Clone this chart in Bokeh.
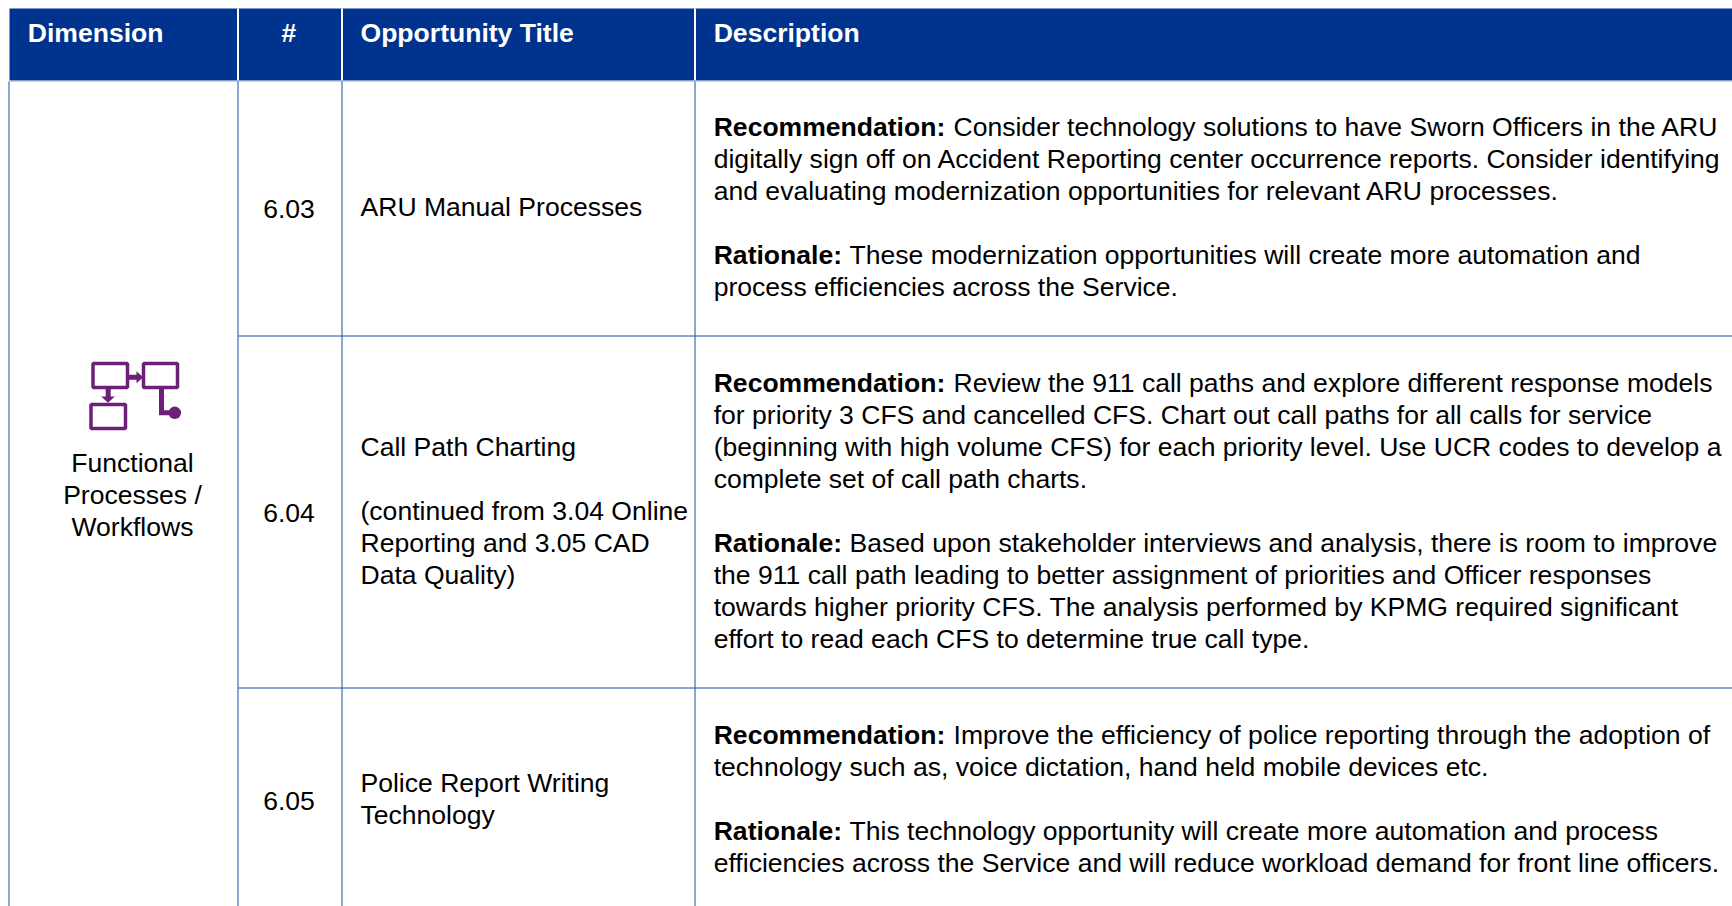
from bokeh.plotting import figure
from bokeh.models import Range1d
from bokeh.core.properties import value
from bokeh.embed import file_html
from bokeh.resources import INLINE

headers = ["Dimension", "#", "Opportunity Title", "Description"]
dimension_lines = ["Functional", "Processes /", "Workflows"]
numbers = ["6.03", "6.04", "6.05"]
titles = [
    ["ARU Manual Processes"],
    ["Call Path Charting", "", "(continued from 3.04 Online", "Reporting and 3.05 CAD", "Data Quality)"],
    ["Police Report Writing", "Technology"],
]
recommendations = [
    ["Consider technology solutions to have Sworn Officers in the ARU",
     "digitally sign off on Accident Reporting center occurrence reports. Consider identifying",
     "and evaluating modernization opportunities for relevant ARU processes."],
    ["Review the 911 call paths and explore different response models",
     "for priority 3 CFS and cancelled CFS. Chart out call paths for all calls for service",
     "(beginning with high volume CFS) for each priority level. Use UCR codes to develop a",
     "complete set of call path charts."],
    ["Improve the efficiency of police reporting through the adoption of",
     "technology such as, voice dictation, hand held mobile devices etc."],
]
rationales = [
    ["These modernization opportunities will create more automation and",
     "process efficiencies across the Service."],
    ["Based upon stakeholder interviews and analysis, there is room to improve",
     "the 911 call path leading to better assignment of priorities and Officer responses",
     "towards higher priority CFS. The analysis performed by KPMG required significant",
     "effort to read each CFS to determine true call type."],
    ["This technology opportunity will create more automation and process",
     "efficiencies across the Service and will reduce workload demand for front line officers."],
]

W, H = 1732, 906
FONT = "Liberation Sans"
BLUE = "#00338D"
LINE = "#1E4FA3"
PURPLE = "#6D2077"
FS = "26.55px"
LH = 32
TEXT_DY = -9.5

p = figure(width=W, height=H, output_backend="svg", toolbar_location=None,
           x_range=Range1d(0, W), y_range=Range1d(H, 0),
           x_axis_type=None, y_axis_type=None, min_border=0,
           outline_line_color=None, margin=(0, 0, 0, 0))
p.grid.visible = False

# Header band
p.quad(left=[9], right=[W], top=[8], bottom=[80], fill_color=BLUE, line_color=None)
p.segment(x0=[237.5, 341.5, 694.5], x1=[237.5, 341.5, 694.5], y0=[8] * 3, y1=[80] * 3,
          line_color="white", line_width=2)
p.segment(x0=[9], x1=[W], y0=[80.5], y1=[80.5], line_color="#8FA6D0", line_width=1)

# Cell rules
p.segment(x0=[8.5, 237.5, 341.5, 694.5], x1=[8.5, 237.5, 341.5, 694.5],
          y0=[81] * 4, y1=[H] * 4, line_color=LINE, line_width=1)
p.segment(x0=[237.5, 237.5], x1=[W, W], y0=[335.5, 687.5], y1=[335.5, 687.5],
          line_color=LINE, line_width=1)


def put(x, y, t, bold=False, color="black", size=FS, align="left"):
    p.text(x=[x], y=[y + TEXT_DY], text=[t], text_font=value(FONT), text_font_size=size,
           text_font_style="bold" if bold else "normal", text_color=color,
           text_align=align, text_baseline="alphabetic")


# Header text
for x, t, al in zip([27.3, 288.5, 360, 713.2], headers, ["left", "center", "left", "left"]):
    put(x, 42, t, bold=True, color="white", align=al)

# Dimension
for i, t in enumerate(dimension_lines):
    put(132, 471.5 + i * LH, t, align="center")

# Numbers
for t, y in zip(numbers, [218.3, 522, 810]):
    put(288.5, y, t, align="center")

# Titles
for lines, y0 in zip(titles, [216, 456, 792]):
    for i, t in enumerate(lines):
        put(360, y0 + i * LH, t)

# Descriptions
REC_W = 239.8
RAT_W = 135.8
for rec, rat, y0 in zip(recommendations, rationales, [135.5, 392, 744]):
    y = y0
    put(713.2, y, "Recommendation:", bold=True)
    put(713.2 + REC_W, y, rec[0])
    for i, t in enumerate(rec[1:], 1):
        put(713.2, y + i * LH, t)
    y = y0 + (len(rec) + 1) * LH
    put(713.2, y, "Rationale:", bold=True)
    put(713.2 + RAT_W, y, rat[0])
    for i, t in enumerate(rat[1:], 1):
        put(713.2, y + i * LH, t)

# Icon
p.quad(left=[92.5, 143, 90.5], right=[127, 177, 125], top=[363, 363, 404], bottom=[387, 387, 428],
       fill_color="white", line_color=PURPLE, line_width=3.5)
p.segment(x0=[128, 107.7, 161], x1=[137, 107.7, 161], y0=[376.7, 388, 388], y1=[376.7, 397, 412.3],
          line_color=PURPLE, line_width=5)
p.segment(x0=[158.5], x1=[172], y0=[412.3], y1=[412.3], line_color=PURPLE, line_width=5)
p.patch(x=[136, 142.7, 136], y=[370.7, 376.7, 382.7], fill_color=PURPLE, line_color=None)
p.patch(x=[100.7, 114.3, 107.5], y=[396, 396, 402.3], fill_color=PURPLE, line_color=None)
p.scatter(x=[174.3], y=[412.3], size=12.5, marker="circle", fill_color=PURPLE, line_color=None)

open("out.html", "w").write(file_html(p, INLINE))
